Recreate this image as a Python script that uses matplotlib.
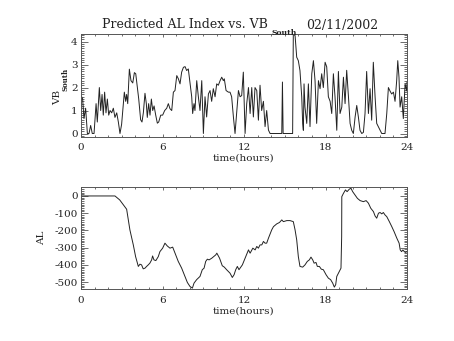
import matplotlib
matplotlib.use('Agg')
import matplotlib.pyplot as plt
from matplotlib.ticker import MultipleLocator

plt.rcParams['font.family'] = 'DejaVu Serif'
plt.rcParams['axes.unicode_minus'] = False

# VB south (hours, value)
vb_hours = [0.0, 0.05, 0.12, 0.22, 0.34, 0.47, 0.59, 0.71, 0.83, 0.96, 1.11, 1.2, 1.35,
            1.45, 1.55, 1.64, 1.74, 1.84, 1.94, 2.04, 2.14, 2.26, 2.38, 2.5, 2.63, 2.75,
            2.87, 2.99, 3.12, 3.19, 3.29, 3.36, 3.44, 3.56, 3.68, 3.81, 3.93, 4.03, 4.15,
            4.25, 4.39, 4.49, 4.59, 4.71, 4.81, 4.88, 4.98, 5.08, 5.18, 5.28, 5.38, 5.5,
            5.62, 5.72, 5.87, 6.01, 6.16, 6.31, 6.43, 6.55, 6.68, 6.8, 6.92, 7.05, 7.17,
            7.29, 7.41, 7.54, 7.66, 7.78, 7.9, 8.03, 8.15, 8.22, 8.32, 8.39, 8.52, 8.64,
            8.76, 8.89, 9.01, 9.13, 9.25, 9.38, 9.5, 9.62, 9.74, 9.87, 9.99, 10.11, 10.24,
            10.36, 10.48, 10.55, 10.68, 10.85, 10.97, 11.09, 11.22, 11.34, 11.46, 11.59,
            11.71, 11.83, 11.95, 12.08, 12.2, 12.33, 12.45, 12.57, 12.69, 12.81, 12.94,
            13.06, 13.18, 13.3, 13.43, 13.55, 13.67, 13.8, 13.92, 14.78, 14.83, 14.88,
            15.58, 15.63, 15.76, 15.88, 16.0, 16.12, 16.25, 16.32, 16.37, 16.42, 16.49,
            16.62, 16.74, 16.86, 16.99, 17.11, 17.23, 17.35, 17.48, 17.6, 17.72, 17.84,
            17.97, 18.09, 18.21, 18.34, 18.46, 18.58, 18.7, 18.83, 18.95, 19.07, 19.2,
            19.32, 19.44, 19.56, 19.69, 19.81, 19.93, 20.05, 20.18, 20.3, 20.42, 20.54,
            20.67, 20.79, 20.91, 21.03, 21.16, 21.28, 21.4, 21.52, 21.65, 21.77, 21.89,
            22.02, 22.14, 22.38, 22.51, 22.63, 22.75, 22.87, 23.0, 23.12, 23.24, 23.32,
            23.41, 23.49, 23.61, 23.73, 23.86, 23.98, 24.0]
vb_vals = [1.2, 1.6, 1.5, 0.65, 1.1, 0.0, 0.0, 0.35, 0.0, 0.0, 1.3, 0.5, 2.0,
           1.0, 1.7, 0.8, 1.8, 0.9, 1.5, 0.8, 1.0, 0.9, 1.1, 0.7, 0.9, 0.5,
           0.0, 0.4, 1.3, 1.8, 1.4, 1.7, 1.3, 2.8, 2.3, 2.2, 2.65, 2.6, 2.0,
           1.5, 0.6, 0.5, 0.9, 1.75, 1.3, 0.7, 1.3, 0.8, 1.5, 1.0, 1.2, 0.8,
           0.45, 0.5, 0.8, 0.8, 1.0, 1.1, 1.3, 1.08, 1.0, 1.8, 1.87, 2.52, 2.38,
           2.16, 2.67, 2.88, 2.91, 2.74, 2.81, 2.16, 1.6, 0.87, 1.3, 1.0, 2.3, 1.6,
           1.0, 2.3, 0.0, 1.6, 0.72, 1.72, 1.87, 1.4, 1.95, 1.6, 2.16, 2.1, 2.3,
           2.45, 2.3, 2.38, 1.87, 1.8, 1.8, 1.6, 0.72, 0.0, 0.87, 1.87,
           1.6, 1.65, 2.67, 0.0, 1.3, 2.0, 0.87, 2.0, 0.72, 2.0, 1.87,
           0.58, 2.1, 1.0, 1.4, 0.3, 1.0, 0.15, 0.0, 0.0, 2.24, 0.0,
           0.0, 4.33, 4.26, 3.32, 3.17, 2.74, 1.6, 0.44, 0.14, 2.16, 1.15,
           0.44, 2.16, 0.3, 2.6, 3.17, 2.3, 0.44, 2.3, 1.95, 2.6, 2.0,
           3.1, 2.9, 1.6, 1.4, 0.87, 2.6, 1.6, 0.14, 2.7, 0.87, 1.15,
           2.45, 1.3, 2.75, 1.6, 0.44, 0.14, 0.0, 0.72, 1.22, 0.72, 0.14,
           0.0, 0.05, 0.87, 2.7, 0.87, 1.95, 0.58, 3.1, 1.6, 0.44, 0.3,
           0.14, 0.0, 0.0, 0.87, 2.0, 1.85, 1.72, 1.8, 1.4, 2.3, 3.17,
           2.45, 1.15, 1.6, 0.65, 2.16, 1.85, 2.24]

# AL index (hours, nT)
al_hours = [0.0, 2.5, 2.85, 3.1, 3.36, 3.6, 3.85, 4.02, 4.22, 4.34, 4.46, 4.58, 4.71,
            4.83, 4.95, 5.07, 5.2, 5.27, 5.37, 5.51, 5.69, 5.81, 6.01, 6.18, 6.35, 6.55,
            6.75, 6.92, 7.16, 7.41, 7.65, 7.83, 8.02, 8.2, 8.32, 8.51, 8.76, 8.93, 9.06,
            9.18, 9.3, 9.43, 9.63, 9.92, 10.0, 10.2, 10.4, 10.55, 10.72, 10.85, 10.97,
            11.14, 11.27, 11.39, 11.51, 11.63, 11.88, 12.08, 12.33, 12.45, 12.65, 12.82,
            12.94, 13.06, 13.18, 13.31, 13.43, 13.55, 13.67, 13.8, 14.04, 14.17, 14.41,
            14.61, 14.78, 14.9, 15.15, 15.39, 15.63, 15.76, 15.88, 16.0, 16.12, 16.32,
            16.49, 16.66, 16.81, 16.93, 17.06, 17.16, 17.3, 17.4, 17.55, 17.69, 17.84,
            18.04, 18.21, 18.38, 18.53, 18.65, 18.75, 18.83, 18.95, 19.07, 19.14, 19.19,
            19.2, 19.32, 19.47, 19.59, 19.76, 19.88, 20.0, 20.17, 20.35, 20.55, 20.79,
            20.99, 21.16, 21.33, 21.53, 21.65, 21.77, 21.9, 22.02, 22.14, 22.26, 22.38,
            22.51, 22.7, 22.88, 23.05, 23.25, 23.42, 23.5, 23.6, 23.7, 23.8, 23.88, 24.0]
al_vals = [0, 0, -23, -50, -77, -197, -284, -352, -409, -396, -400, -423, -419,
           -409, -400, -390, -371, -348, -371, -375, -352, -323, -303, -274, -290, -303,
           -297, -332, -380, -419, -467, -502, -525, -535, -506, -486, -467, -428, -419,
           -380, -367, -371, -361, -342, -332, -361, -405, -413, -428, -438, -448,
           -473, -457, -428, -409, -428, -400, -361, -313, -332, -303, -313,
           -293, -303, -284, -284, -264, -274, -274, -245, -197, -178, -162,
           -154, -139, -149, -143, -143, -149, -197, -255, -352, -409, -413,
           -400, -380, -371, -355, -371, -390, -386, -409, -409, -425, -428,
           -457, -477, -486, -506, -529, -515, -467, -448, -428, -419, -236,
           -4, 15, 35, 25, 40, 44, 25, 6, -14, -27, -33,
           -27, -42, -71, -91, -116, -129, -100, -96, -104, -96, -110,
           -120, -149, -178, -207, -245, -274, -313, -323, -313, -323, -328, -323]

ink = '#222222'
frame = '#555555'

fig = plt.figure(figsize=(4.54, 3.41), dpi=100)
W, H = 454.0, 341.0


def box(l, t, r, b):
    return [l / W, 1 - b / H, (r - l) / W, (b - t) / H]


def style(ax, ymajor, yminor):
    ax.set_xlim(0, 24)
    ax.xaxis.set_major_locator(MultipleLocator(6))
    ax.xaxis.set_minor_locator(MultipleLocator(1))
    ax.yaxis.set_major_locator(MultipleLocator(ymajor))
    ax.yaxis.set_minor_locator(MultipleLocator(yminor))
    ax.tick_params(which='both', direction='in', top=True, right=True,
                   colors=frame, labelcolor=ink, labelsize=7.5, width=0.6)
    ax.tick_params(axis='x', which='major', length=2.2, pad=5)
    ax.tick_params(axis='x', which='minor', length=1.2)
    ax.tick_params(axis='y', which='major', length=4.7, pad=2.5)
    ax.tick_params(axis='y', which='minor', length=2.4)
    for s in ax.spines.values():
        s.set_color(frame)
        s.set_linewidth(0.7)


# top panel: VB south
ax1 = fig.add_axes(box(81, 34, 407, 136.5))
ax1.plot(vb_hours, vb_vals, color=ink, lw=0.7)
ax1.set_ylim(-0.13, 4.33)
style(ax1, 1, 0.1)

# bottom panel: AL index
ax2 = fig.add_axes(box(81, 187, 407, 289))
ax2.plot(al_hours, al_vals, color=ink, lw=0.7)
ax2.set_ylim(-540, 52)
style(ax2, 100, 10)

# title with subscript
fig.text(102 / W, 1 - 25 / H, 'Predicted AL Index vs. VB', fontsize=9,
         color=ink, ha='left', va='center')
fig.text(271 / W, 1 - 33 / H, 'South', fontsize=5.5, color=ink,
         ha='left', va='center', fontweight='bold')
fig.text(306 / W, 1 - 25 / H, '02/11/2002', fontsize=9, color=ink,
         ha='left', va='center')

# axis labels
fig.text(244 / W, 1 - 158 / H, 'time(hours)', fontsize=7.5, color=ink,
         ha='center', va='center')
fig.text(244 / W, 1 - 311 / H, 'time(hours)', fontsize=7.5, color=ink,
         ha='center', va='center')
fig.text(58 / W, 1 - 97 / H, 'VB', fontsize=7.5, color=ink, rotation=90,
         ha='center', va='center')
fig.text(65 / W, 1 - 79 / H, 'South', fontsize=5, color=ink, rotation=90,
         ha='center', va='center', fontweight='bold')
fig.text(42 / W, 1 - 238 / H, 'AL', fontsize=7.5, color=ink, rotation=90,
         ha='center', va='center')

fig.savefig('out.png', dpi=100)
